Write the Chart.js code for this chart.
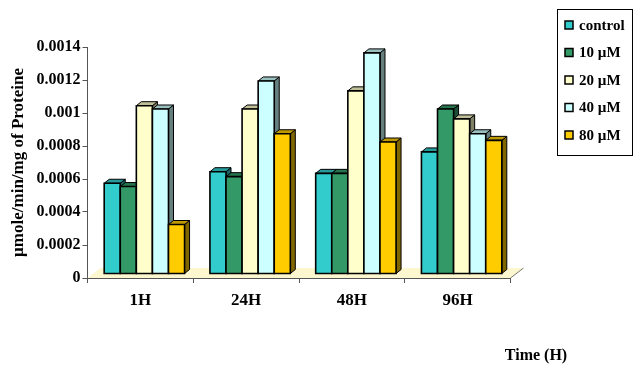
<!DOCTYPE html>
<html>
<head>
<meta charset="utf-8">
<script src="https://cdn.jsdelivr.net/npm/chart.js@4/dist/chart.umd.min.js"></script>
<style>
  html, body { margin: 0; padding: 0; background: #ffffff; }
  #wrap { width: 634px; height: 366px; }
</style>
</head>
<body>
<div id="wrap"><canvas id="chart" width="634" height="366"></canvas></div>
<script>
// data
var categories = ["1H", "24H", "48H", "96H"];
var seriesNames = ["control", "10 µM", "20 µM", "40 µM", "80 µM"];
var controlVals = [0.00055, 0.00062, 0.00061, 0.00074];
var uM10Vals = [0.00053, 0.00059, 0.00061, 0.00100];
var uM20Vals = [0.00102, 0.00100, 0.00111, 0.00094];
var uM40Vals = [0.00100, 0.00117, 0.00134, 0.00085];
var uM80Vals = [0.00030, 0.00085, 0.00080, 0.00081];
var seriesColors = ["#33CCCC", "#339966", "#FFFFCC", "#CCFFFF", "#FFCC00"];
var yTickStep = 0.0002;
var yMax = 0.0014;
var yTitle = "µmole/min/mg of Proteine";
var xTitle = "Time (H)";

var FONT = "'Liberation Serif', 'Times New Roman', serif";

function shade(hex, f){
  var n = parseInt(hex.slice(1), 16);
  var r = Math.round(((n >> 16) & 255) * f);
  var g = Math.round(((n >> 8) & 255) * f);
  var b = Math.round((n & 255) * f);
  return "rgb(" + r + "," + g + "," + b + ")";
}

function poly(ctx, pts, fill, lw){
  ctx.beginPath();
  ctx.moveTo(pts[0][0], pts[0][1]);
  for(var i = 1; i < pts.length; i++) ctx.lineTo(pts[i][0], pts[i][1]);
  ctx.closePath();
  ctx.fillStyle = fill;
  ctx.fill();
  ctx.lineWidth = lw;
  ctx.strokeStyle = "#000000";
  ctx.stroke();
}

// fake 3D: floor, bars with top and side faces, custom legend and x title
var bars3d = {
  id: "bars3d",
  beforeDatasetsDraw: function(chart){
    var ctx = chart.ctx;
    var x = chart.scales.x, y = chart.scales.y;
    var b = y.getPixelForValue(0);
    ctx.save();
    ctx.beginPath();
    ctx.moveTo(x.left, b);
    ctx.lineTo(x.right, b);
    ctx.lineTo(x.right + 13, b - 10);
    ctx.lineTo(x.left + 13, b - 10);
    ctx.closePath();
    ctx.fillStyle = "#FDF7CF";
    ctx.fill();
    ctx.beginPath();
    ctx.moveTo(x.right, b);
    ctx.lineTo(x.right + 13, b - 10);
    ctx.strokeStyle = "#777777";
    ctx.lineWidth = 1;
    ctx.stroke();
    ctx.restore();
  },
  beforeDatasetDraw: function(){ return false; },
  afterDatasetsDraw: function(chart){
    var ctx = chart.ctx;
    var ox = 4, oy = -4, dx = 5, dy = -4;
    ctx.save();
    chart.data.datasets.forEach(function(ds, k){
      var meta = chart.getDatasetMeta(k);
      var col = seriesColors[k];
      meta.data.forEach(function(el){
        var l = el.x - el.width / 2 + ox, r = el.x + el.width / 2 + ox;
        var t = el.y + oy, bt = el.base + oy;
        poly(ctx, [[r, t], [r + dx, t + dy], [r + dx, bt + dy], [r, bt]], shade(col, 0.5), 1);
        poly(ctx, [[l, t], [l + dx, t + dy], [r + dx, t + dy], [r, t]], shade(col, 0.75), 1);
        poly(ctx, [[l, t], [r, t], [r, bt], [l, bt]], col, 1.6);
      });
    });
    ctx.restore();
  },
  afterDraw: function(chart){
    var ctx = chart.ctx;
    ctx.save();
    // legend box
    ctx.strokeStyle = "#000000";
    ctx.lineWidth = 1;
    ctx.strokeRect(557.5, 9.5, 75, 146);
    ctx.font = "bold 15px " + FONT;
    ctx.textBaseline = "middle";
    ctx.textAlign = "left";
    chart.data.datasets.forEach(function(ds, k){
      var cy = 25 + k * 27.5;
      ctx.fillStyle = seriesColors[k];
      ctx.fillRect(565, cy - 4, 8, 8);
      ctx.lineWidth = 1.5;
      ctx.strokeRect(565, cy - 4, 8, 8);
      ctx.fillStyle = "#000000";
      ctx.fillText(ds.label, 579, cy + 1);
    });
    // x title
    ctx.font = "bold 16px " + FONT;
    ctx.textAlign = "center";
    ctx.fillText(xTitle, 536, 356);
    ctx.restore();
  }
};

var datasets = [controlVals, uM10Vals, uM20Vals, uM40Vals, uM80Vals].map(function(vals, k){
  return { label: seriesNames[k], data: vals, backgroundColor: seriesColors[k], borderColor: "#000000", borderWidth: 1.5 };
});

new Chart(document.getElementById("chart"), {
  type: "bar",
  data: { labels: categories, datasets: datasets },
  options: {
    responsive: false,
    animation: false,
    devicePixelRatio: 1,
    layout: { padding: { left: 0, top: 47, right: 123.5, bottom: 0 } },
    datasets: { bar: { categoryPercentage: 0.76, barPercentage: 1 } },
    plugins: { legend: { display: false }, tooltip: { enabled: false } },
    scales: {
      x: {
        offset: true,
        grid: { offset: true, drawOnChartArea: false, tickLength: 5, color: "#555555" },
        border: { color: "#555555", width: 1 },
        ticks: { color: "#000000", padding: 7, font: { family: FONT, size: 17, weight: "bold" } },
        afterFit: function(s){ s.height = 88; }
      },
      y: {
        min: 0,
        max: yMax,
        grid: { drawOnChartArea: false, tickLength: 5, color: "#555555" },
        border: { color: "#555555", width: 1 },
        ticks: {
          stepSize: yTickStep,
          padding: 2,
          color: "#000000",
          font: { family: FONT, size: 16, weight: "bold" },
          callback: function(v){ return parseFloat(v.toFixed(4)).toString(); }
        },
        title: {
          display: true,
          text: yTitle,
          color: "#000000",
          padding: { top: 8, bottom: 0 },
          font: { family: FONT, size: 17, weight: "bold" }
        },
        afterFit: function(s){ s.width = 87.5; }
      }
    }
  },
  plugins: [bars3d]
});
</script>
</body>
</html>
